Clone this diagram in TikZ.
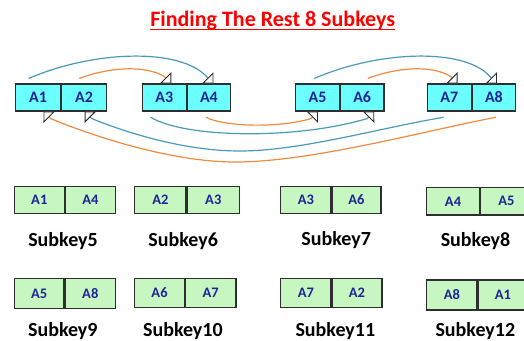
\documentclass[tikz,border=0pt]{standalone}
\usepackage{fontspec}
\setmainfont{Carlito}
\usetikzlibrary{arrows.meta,calc}
\definecolor{cellcyan}{HTML}{6BFFFF}
\definecolor{cellgreen}{HTML}{C6F7C0}
\definecolor{celltext}{HTML}{1F2396}
\definecolor{edgegray}{HTML}{2E2E2E}
\definecolor{lineteal}{HTML}{4A9AB8}
\definecolor{lineorange}{HTML}{F08A3E}
\definecolor{titlered}{HTML}{FF0000}
\begin{document}
\begin{tikzpicture}[x=1pt,y=-1pt,
  cyancell/.style={draw=edgegray, line width=1.1pt, fill=cellcyan, minimum height=27pt,
    inner sep=0pt, anchor=west, text=celltext, font=\bfseries\fontsize{16}{17}\selectfont},
  greencell/.style={draw=edgegray, line width=1.1pt, fill=cellgreen,
    inner sep=0pt, anchor=west, text=celltext, font=\bfseries\fontsize{14.5}{15}\selectfont},
  keylabel/.style={anchor=base, text=black, font=\bfseries\fontsize{20}{22}\selectfont},
  conn/.style={line width=1.2pt,
    -{Triangle[length=8pt,width=16pt,fill=white,color=edgegray,line width=0.9pt]}},
  tealline/.style={conn, draw=lineteal},
  orangeline/.style={conn, draw=lineorange}]
\clip (0,0) rectangle (524,340);

% title
\node[anchor=base, text=titlered, font=\bfseries\fontsize{22}{25}\selectfont, inner sep=0pt]
  (title) at (272.7,26) {Finding The Rest 8 Subkeys};
\draw[titlered, line width=1.8pt] ($(title.base west)+(0,3.5)$) -- ($(title.base east)+(0,3.5)$);

% top row
\node[cyancell, minimum width=45pt] (a1) at (15,97.5) {A1};
\node[cyancell, minimum width=45pt] (a2) at (a1.east) {A2};
\node[cyancell, minimum width=43.5pt] (a3) at (142,97.5) {A3};
\node[cyancell, minimum width=43.5pt] (a4) at (a3.east) {A4};
\node[cyancell, minimum width=43.5pt] (a5) at (295.3,97.5) {A5};
\node[cyancell, minimum width=43.5pt] (a6) at (a5.east) {A6};
\node[cyancell, minimum width=43.5pt] (a7) at (427,97.5) {A7};
\node[cyancell, minimum width=43.5pt] (a8) at (a7.east) {A8};

% upper connectors
\draw[tealline] ($(a1.north)+(-9.5,-5)$) .. controls (95,50) and (180,48) ..
  ($(a4.north)+(-2.5,-7)$) -- ($(a4.north)+(4.5,0)$);
\draw[orangeline] ($(a2.north)+(-5,-5)$) .. controls (110,67) and (145,65) ..
  ($(a3.north)+(0,-7)$) -- ($(a3.north)+(7,0)$);
\draw[tealline] ($(a5.north)+(-3.3,-5)$) .. controls (380,50) and (465,48) ..
  ($(a8.north)+(-4,-7)$) -- ($(a8.north)+(3,0)$);
\draw[orangeline] ($(a6.north)+(5.5,-5)$) .. controls (398,67) and (432,65) ..
  ($(a7.north)+(1.3,-7)$) -- ($(a7.north)+(8.3,0)$);

% lower connectors
\draw[orangeline] ($(a4.south)+(-3,5.7)$) .. controls (225,127) and (280,128) ..
  ($(a5.south)+(-6.7,7)$) -- ($(a5.south)+(0.3,0)$);
\draw[tealline] ($(a3.south)+(-13.7,5.7)$) .. controls (185,138) and (295,140) ..
  ($(a6.south)+(5,7)$) -- ($(a6.south)+(12,0)$);
\draw[tealline] ($(a7.south)+(-5.7,5.7)$) .. controls (380,128) and (300,151) .. (240,151)
  .. controls (180,151) and (120,130) .. ($(a2.south)+(7.5,7)$) -- ($(a2.south)+(0.5,0)$);
\draw[orangeline] ($(a8.south)+(2,5.7)$) .. controls (420,132) and (310,162) .. (235,162)
  .. controls (170,162) and (90,135) .. ($(a1.south)+(12.5,7)$) -- ($(a1.south)+(5.5,0)$);

% subkeys, row 1
\node[greencell, minimum height=26.5pt, minimum width=49.5pt] (s5a) at (14,200) {A1};
\node[greencell, minimum height=26.5pt, minimum width=50.5pt] (s5b) at (s5a.east) {A4};
\node[greencell, minimum height=27.4pt, minimum width=51pt] (s6a) at (134.3,200) {A2};
\node[greencell, minimum height=27.4pt, minimum width=52.7pt] (s6b) at (s6a.east) {A3};
\node[greencell, minimum height=27.4pt, minimum width=50pt] (s7a) at (280.3,200) {A3};
\node[greencell, minimum height=27.4pt, minimum width=49pt] (s7b) at (s7a.east) {A6};
\node[greencell, minimum height=27.3pt, minimum width=52.4pt] (s8a) at (426.3,201.3) {A4};
\node[greencell, minimum height=27.3pt, minimum width=52pt] (s8b) at (s8a.east) {A5};
\node[keylabel] (k5) at (63,246) {Subkey5};
\node[keylabel] (k6) at (183.2,246) {Subkey6};
\node[keylabel] (k7) at (336.2,245) {Subkey7};
\node[keylabel] (k8) at (475.5,246) {Subkey8};

% subkeys, row 2
\node[greencell, minimum height=30pt, minimum width=49.3pt] (s9a) at (14,293.7) {A5};
\node[greencell, minimum height=30pt, minimum width=50.7pt] (s9b) at (s9a.east) {A8};
\node[greencell, minimum height=28.6pt, minimum width=49.4pt] (s10a) at (134.3,293) {A6};
\node[greencell, minimum height=28.6pt, minimum width=50.6pt] (s10b) at (s10a.east) {A7};
\node[greencell, minimum height=28.6pt, minimum width=50pt] (s11a) at (280.3,293) {A7};
\node[greencell, minimum height=28.6pt, minimum width=50pt] (s11b) at (s11a.east) {A2};
\node[greencell, minimum height=30pt, minimum width=50pt] (s12a) at (426.3,295) {A8};
\node[greencell, minimum height=30pt, minimum width=50pt] (s12b) at (s12a.east) {A1};
\node[keylabel] (k9) at (62.8,336) {Subkey9};
\node[keylabel] (k10) at (182.9,336) {Subkey10};
\node[keylabel] (k11) at (335.3,336) {Subkey11};
\node[keylabel] (k12) at (475.3,336) {Subkey12};
\end{tikzpicture}
\end{document}
